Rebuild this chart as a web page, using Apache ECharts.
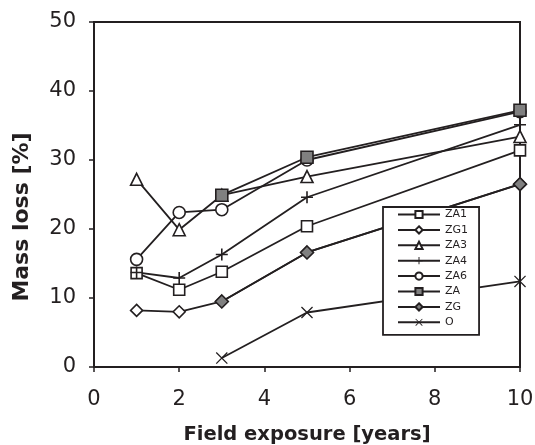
<!DOCTYPE html>
<html>
<head>
<meta charset="utf-8">
<script src="https://cdn.jsdelivr.net/npm/echarts@6/dist/echarts.min.js"></script>
<style>html,body{margin:0;padding:0;background:#fff}#c{width:535px;height:445px}</style>
</head>
<body>
<div id="c"></div>
<script>
// ---- data ----
var xTicks = [0, 2, 4, 6, 8, 10];
var yTicks = [0, 10, 20, 30, 40, 50];
var seriesNames = ['ZA1', 'ZG1', 'ZA3', 'ZA4', 'ZA6', 'ZA', 'ZG', 'O'];
var ZA1 = [[1, 13.6], [2, 11.2], [3, 13.8], [5, 20.4], [10, 31.4]];
var ZG1 = [[1, 8.2], [2, 8.0], [3, 9.5], [5, 16.6], [10, 26.5]];
var ZA3 = [[1, 27.2], [2, 19.9], [3, 24.9], [5, 27.6], [10, 33.4]];
var ZA4 = [[1, 13.7], [2, 12.9], [3, 16.3], [5, 24.6], [10, 35.1]];
var ZA6 = [[1, 15.6], [2, 22.4], [3, 22.8], [5, 30.0], [10, 37.0]];
var ZA  = [[3, 24.9], [5, 30.4], [10, 37.2]];
var ZG  = [[3, 9.5], [5, 16.6], [10, 26.5]];
var O   = [[3, 1.3], [5, 7.9], [10, 12.4]];
var xTitle = 'Field exposure [years]';
var yTitle = 'Mass loss [%]';

// ---- styles ----
var INK = '#231f20';
var GRAY = '#808080';
var FONT = '"DejaVu Sans", sans-serif';
var PLUS = 'path://M-6,-0.8H6V0.8H-6Z M-0.8,-6H0.8V6H-0.8Z';
var CROSS = 'path://M-6,-5.1L-5.1,-6L6,5.1L5.1,6Z M5.1,-6L6,-5.1L-5.1,6L-6,5.1Z';

function mk(name, data, symbol, size, fill, border) {
  return {
    name: name, type: 'line', data: data,
    symbol: symbol, symbolSize: size,
    showAllSymbol: true,
    lineStyle: { color: INK, width: 1.8 },
    itemStyle: { color: fill, borderColor: INK, borderWidth: border },
    emphasis: { disabled: true },
    animation: false
  };
}

var series = [
  mk('ZA1', ZA1, 'rect', 11, '#fff', 1.6),
  mk('ZG1', ZG1, 'diamond', 12, '#fff', 1.6),
  mk('ZA3', ZA3, 'triangle', 12, '#fff', 1.6),
  mk('ZA4', ZA4, PLUS, 12, INK, 0),
  mk('ZA6', ZA6, 'circle', 12, '#fff', 1.6),
  mk('ZA', ZA, 'rect', 12, GRAY, 1.6),
  mk('ZG', ZG, 'diamond', 13, GRAY, 1.6),
  mk('O', O, CROSS, 12, INK, 0)
];

var chart = echarts.init(document.getElementById('c'), null, { renderer: 'canvas' });
chart.setOption({
  animation: false,
  backgroundColor: '#fff',
  grid: { left: 94, right: 15, top: 22, bottom: 78, containLabel: false, outerBoundsMode: 'none', show: true, borderColor: INK, borderWidth: 2, backgroundColor: 'transparent' },
  xAxis: {
    type: 'value', min: xTicks[0], max: xTicks[xTicks.length - 1], interval: xTicks[1] - xTicks[0],
    name: xTitle, nameLocation: 'middle', nameGap: 58,
    nameTextStyle: { fontFamily: FONT, fontWeight: 'bold', fontSize: 19.5, color: INK },
    axisLine: { show: true, lineStyle: { color: INK, width: 2 } },
    axisTick: { show: true, inside: false, length: 5, lineStyle: { color: INK, width: 1.5 } },
    axisLabel: { fontFamily: FONT, fontSize: 21, color: INK, margin: 22 },
    splitLine: { show: false }
  },
  yAxis: {
    type: 'value', min: yTicks[0], max: yTicks[yTicks.length - 1], interval: yTicks[1] - yTicks[0],
    axisLine: { show: true, lineStyle: { color: INK, width: 2 } },
    axisTick: { show: true, inside: false, length: 5, lineStyle: { color: INK, width: 1.5 } },
    axisLabel: { fontFamily: FONT, fontSize: 21, color: INK, margin: 18 },
    splitLine: { show: false }
  },
  legend: {
    data: seriesNames,
    orient: 'vertical', left: 383, top: 207,
    itemWidth: 42, itemHeight: 9, itemGap: 4.4,
    padding: [2, 11, 7, 14],
    backgroundColor: '#fff', borderColor: INK, borderWidth: 1.8,
    lineStyle: { color: INK, width: 2 },
    textStyle: { fontFamily: FONT, fontSize: 11, color: INK },
    selectedMode: false
  },
  graphic: [{
    type: 'text', x: 22, y: 217, rotation: Math.PI / 2,
    style: { text: yTitle, font: 'bold 22px "DejaVu Sans", sans-serif', fill: INK, textAlign: 'center', textVerticalAlign: 'middle', align: 'center', verticalAlign: 'middle' }
  }],
  series: series
});
</script>
</body>
</html>
